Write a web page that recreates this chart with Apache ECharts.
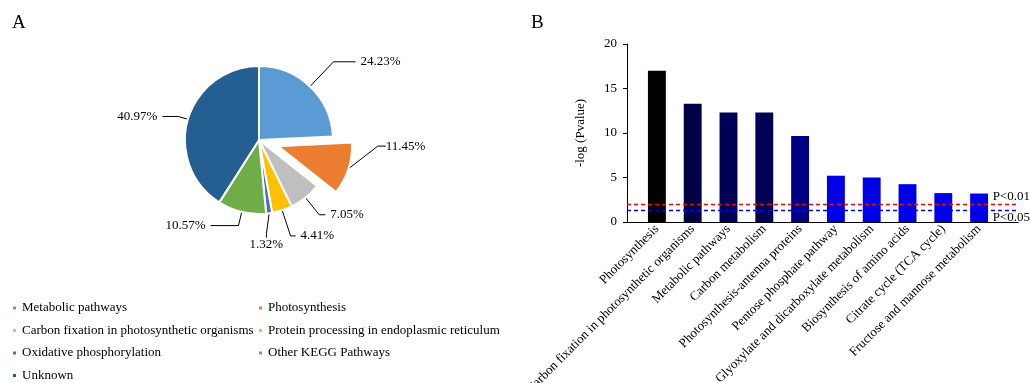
<!DOCTYPE html>
<html>
<head>
<meta charset="utf-8">
<script src="https://cdn.jsdelivr.net/npm/echarts@6/dist/echarts.min.js"></script>
<style>
html,body{margin:0;padding:0;background:#fff;}
#main{width:1031px;height:383px;}
</style>
</head>
<body>
<div id="main"></div>
<script>
// ---- Panel A data (pie) ----
var pieNames = ['Metabolic pathways','Photosynthesis','Carbon fixation in photosynthetic organisms','Protein processing in endoplasmic reticulum','Oxidative phosphorylation','Other KEGG Pathways','Unknown'];
var pieValues = [24.23, 11.45, 7.05, 4.41, 1.32, 10.57, 40.97];
var pieColors = ['#5B9BD5','#ED7D31','#BFBFBF','#FFC000','#4472C4','#70AD47','#255E91'];
var legendLeftCol = ['Metabolic pathways','Carbon fixation in photosynthetic organisms','Oxidative phosphorylation','Unknown'];
var legendRightCol = ['Photosynthesis','Protein processing in endoplasmic reticulum','Other KEGG Pathways'];

// ---- Panel B data (bars) ----
var barCategories = ['Photosynthesis','Carbon fixation in photosynthetic organisms','Metabolic pathways','Carbon metabolism','Photosynthesis-antenna proteins','Pentose phosphate pathway','Glyoxylate and dicarboxylate metabolism','Biosynthesis of amino acids','Citrate cycle (TCA cycle)','Fructose and mannose metabolism'];
var barValues = [17.0, 13.3, 12.3, 12.3, 9.65, 5.2, 5.0, 4.25, 3.25, 3.2];
var barColors = ['#000000','#000045','#000055','#000055','#000085','#0000E6','#0000E6','#0000E6','#0000E6','#0000E6'];
var thresholds = [2.0, 1.3];
var thresholdLabels = ['P<0.01','P<0.05'];
var yTicks = {min:0, max:20, interval:5};

// label line lengths per slice (style, not data)
var pieLineLen = [
  {length:34, length2:22},
  {length:14, length2:8},
  {length:22, length2:6},
  {length:27, length2:5},
  {length:16, length2:4},
  {length:14, length2:28},
  {length:10, length2:16}
];

var FONT = '"Liberation Serif","Times New Roman",serif';
var chart = echarts.init(document.getElementById('main'));

var pieData = pieNames.map(function(n,i){
  return {name:n, value:pieValues[i], selected: n==='Photosynthesis',
          itemStyle:{color:pieColors[i]}, labelLine:pieLineLen[i]};
});

var legendCommon = {orient:'vertical', top:301, padding:0, icon:'rect', itemWidth:5, itemHeight:5, itemGap:8.5,
  textStyle:{fontFamily:FONT, fontSize:13, color:'#000', lineHeight:14}};

// nudges of two labels relative to their default positions (Excel-like placement)
function pieLabelLayout(p){
  var r = p.labelRect;
  if (p.dataIndex === 1) {
    return {x: r.x, y: r.y + r.height/2, dx: 11, dy: -27};
  }
  if (p.dataIndex === 4) {
    return {x: r.x - 14, y: r.y + r.height/2 + 15, align:'center'};
  }
}

var option = {
  animation:false,
  backgroundColor:'#fff',
  title:[
    {text:'A', left:7, top:9, textStyle:{fontFamily:FONT, fontSize:19, fontWeight:'normal', color:'#000'}},
    {text:'B', left:526, top:9, textStyle:{fontFamily:FONT, fontSize:19, fontWeight:'normal', color:'#000'}}
  ],
  legend:[
    Object.assign({left:11, data:legendLeftCol}, legendCommon),
    Object.assign({left:257, data:legendRightCol}, legendCommon)
  ],
  grid:[
    {left:627, right:13, top:44, bottom:161, outerBoundsMode:'none', containLabel:false},
    {left:639, right:34, top:44, bottom:161, outerBoundsMode:'none', containLabel:false}
  ],
  xAxis:[
    {gridIndex:0, type:'value', min:0, max:1, axisLine:{show:true, onZero:false, lineStyle:{color:'#000', width:1}},
     axisTick:{show:false}, axisLabel:{show:false}, splitLine:{show:false}},
    {gridIndex:1, type:'category', data:barCategories, axisLine:{show:false}, axisTick:{show:false},
     axisLabel:{interval:0, rotate:45, margin:5, fontFamily:FONT, fontSize:13, color:'#000'}}
  ],
  yAxis:[
    {gridIndex:0, type:'value', min:yTicks.min, max:yTicks.max, interval:yTicks.interval,
     name:'-log (Pvalue)', nameLocation:'middle', nameGap:40,
     nameTextStyle:{fontFamily:FONT, fontSize:13, color:'#000'},
     axisLine:{show:true, lineStyle:{color:'#000', width:1}},
     axisTick:{show:true, length:4, lineStyle:{color:'#000'}},
     axisLabel:{fontFamily:FONT, fontSize:13, color:'#000', margin:10},
     splitLine:{show:false}},
    {gridIndex:1, type:'value', min:yTicks.min, max:yTicks.max, interval:yTicks.interval, show:false, splitLine:{show:false}}
  ],
  series:[
    {
      type:'pie', center:[259,140], radius:[0,74], startAngle:90, clockwise:true,
      selectedMode:'single', selectedOffset:20, avoidLabelOverlap:false,
      itemStyle:{borderColor:'#fff', borderWidth:2},
      label:{show:true, formatter:'{c}%', fontFamily:FONT, fontSize:13, color:'#000'},
      labelLine:{show:true, lineStyle:{color:'#000', width:1}},
      labelLayout:pieLabelLayout,
      emphasis:{disabled:true},
      data:pieData
    },
    {
      type:'bar', xAxisIndex:1, yAxisIndex:1, barWidth:'50%',
      data:barValues.map(function(v,i){return {value:v, itemStyle:{color:barColors[i]}};}),
      z:2
    },
    {
      type:'line', xAxisIndex:0, yAxisIndex:0, data:[], symbol:'none', silent:true,
      markLine:{
        silent:true, symbol:['none','none'],
        data:[
          {yAxis:thresholds[0], lineStyle:{color:'#FF0000', type:[4,3], width:1.3},
           label:{show:true, formatter:thresholdLabels[0], position:'insideEndTop', distance:[-12,1], fontFamily:FONT, fontSize:13, color:'#000'}},
          {yAxis:thresholds[1], lineStyle:{color:'#0000FF', type:[4,3], width:1.3},
           label:{show:true, formatter:thresholdLabels[1], position:'insideEndBottom', distance:[-12,1], fontFamily:FONT, fontSize:13, color:'#000'}}
        ]
      },
      z:3
    }
  ]
};
chart.setOption(option);
</script>
</body>
</html>
